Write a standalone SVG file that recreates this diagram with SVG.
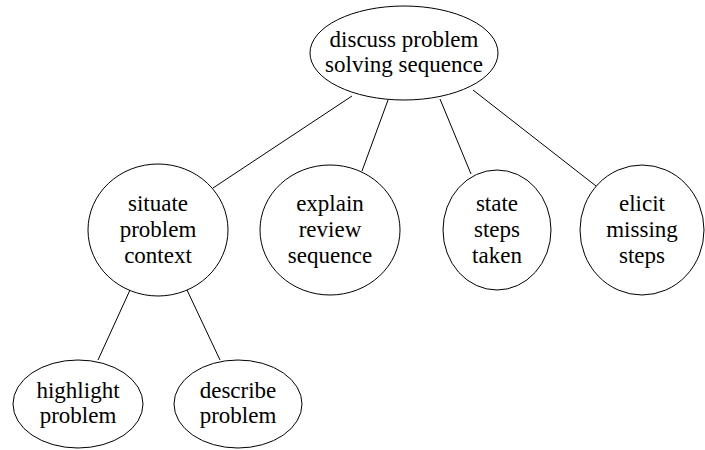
<svg xmlns="http://www.w3.org/2000/svg" width="705" height="450" viewBox="0 0 705 450">
<style>
.n ellipse{fill:#fff;stroke:#000;stroke-width:1}
.n text{font-family:'Liberation Serif','DejaVu Serif',serif;font-size:23px;text-anchor:middle;fill:#000}
#edges line{stroke:#000;stroke-width:1}
</style>
<rect width="705" height="450" fill="#fff"/>
<g id="edges">
<line x1="352" y1="96" x2="213" y2="188"/>
<line x1="388" y1="100" x2="362" y2="171"/>
<line x1="440" y1="99" x2="471" y2="174"/>
<line x1="473" y1="90" x2="596" y2="186"/>
<line x1="130" y1="290" x2="98" y2="360"/>
<line x1="187" y1="290" x2="220" y2="360"/>
</g>
<g id="discuss" class="n"><ellipse cx="404" cy="53" rx="94" ry="47"/><text x="404" y="47">discuss problem</text><text x="404" y="72">solving sequence</text></g>
<g id="situate" class="n"><ellipse cx="158" cy="230" rx="70" ry="66"/><text x="158" y="211">situate</text><text x="158" y="237">problem</text><text x="158" y="263">context</text></g>
<g id="explain" class="n"><ellipse cx="330" cy="230" rx="70" ry="65"/><text x="330" y="211">explain</text><text x="330" y="237">review</text><text x="330" y="263">sequence</text></g>
<g id="state" class="n"><ellipse cx="497" cy="230" rx="54" ry="60"/><text x="497" y="211">state</text><text x="497" y="237">steps</text><text x="497" y="263">taken</text></g>
<g id="elicit" class="n"><ellipse cx="642" cy="230" rx="62" ry="65"/><text x="642" y="211">elicit</text><text x="642" y="237">missing</text><text x="642" y="263">steps</text></g>
<g id="highlight" class="n"><ellipse cx="78" cy="404" rx="65" ry="44"/><text x="78" y="398">highlight</text><text x="78" y="423">problem</text></g>
<g id="describe" class="n"><ellipse cx="238" cy="404" rx="64" ry="44"/><text x="238" y="398">describe</text><text x="238" y="423">problem</text></g>
</svg>
